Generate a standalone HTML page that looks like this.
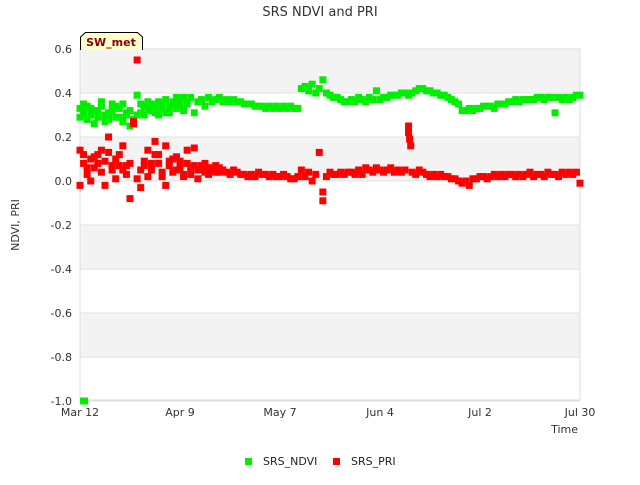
<!DOCTYPE html>
<html><head><meta charset="utf-8"><style>
body{margin:0;background:#fff;font-family:"Liberation Sans","DejaVu Sans",sans-serif}
svg text{font-family:"DejaVu Sans","Liberation Sans",sans-serif}
</style></head><body>
<svg id="c" width="640" height="480" viewBox="0 0 640 480">
<text x="320" y="16" text-anchor="middle" font-size="13" fill="#333">SRS NDVI and PRI</text>
<g id="bands"></g><g id="grid"></g>
<rect x="80" y="49" width="500" height="351" fill="none" stroke="#ddd"/>
<g id="yt"></g><g id="xt"></g><g id="marks"></g>
<text transform="translate(19,225) rotate(-90)" text-anchor="middle" font-size="11" fill="#333">NDVI, PRI</text>
<text x="578" y="433" text-anchor="end" font-size="11" fill="#333">Time</text>
<g>
<path d="M80.5,50 L80.5,37 L85.5,32.5 L137.5,32.5 L142.5,37 L142.5,50" fill="#ffffcc" stroke="#000"/>
<text x="111" y="46" text-anchor="middle" font-size="11" font-weight="bold" fill="#8b0000">SW_met</text></g>
<g>
<rect x="245" y="458" width="7" height="7" fill="#00ee00"/>
<text x="263" y="465" font-size="11" fill="#222">SRS_NDVI</text>
<rect x="333" y="458" width="7" height="7" fill="#ff0000"/>
<text x="351" y="465" font-size="11" fill="#222">SRS_PRI</text></g>
</svg>
<script>
const yTicks=[0.6,0.4,0.2,0.0,-0.2,-0.4,-0.6,-0.8,-1.0];
const yTickLabels=["0.6","0.4","0.2","0.0","-0.2","-0.4","-0.6","-0.8","-1.0"];
const xTickDays=[0,28,56,84,112,140];
const xTickLabels=["Mar 12","Apr 9","May 7","Jun 4","Jul 2","Jul 30"];
const ndvi=[0.33,0.31,0.34,0.30,0.32,0.29,0.34,0.27,0.31,0.35,0.29,0.33,0.27,0.30,0.32,
0.26,0.39,0.31,0.34,0.36,0.32,0.33,0.30,0.35,0.31,0.34,0.36,0.33,
0.37,0.32,0.35,0.38,0.31,0.36,0.37,0.34,0.38,0.36,0.37,0.38,0.36,0.37,0.36,0.37,0.36,0.36,
0.35,0.35,0.35,0.34,0.34,0.34,0.33,0.34,0.33,0.34,0.33,0.34,0.33,0.34,0.33,0.33,
0.42,0.43,0.41,0.44,0.40,0.42,0.46,0.40,0.39,0.38,0.38,0.37,0.36,0.36,
0.37,0.36,0.38,0.37,0.36,0.38,0.37,0.41,0.37,0.38,0.38,0.39,0.39,0.39,
0.40,0.40,0.39,0.40,0.41,0.42,0.42,0.41,0.41,0.40,0.40,
0.39,0.39,0.38,0.37,0.36,0.35,0.32,0.32,0.33,0.32,
0.33,0.33,0.34,0.34,0.34,0.33,0.35,0.35,0.35,0.36,
0.36,0.37,0.36,0.37,0.37,0.37,0.37,0.38,0.38,0.37,0.38,0.38,0.31,0.38,0.37,0.38,0.37,0.38,0.39,0.39];
const pri=[0.14,0.08,0.03,0.10,0.06,0.12,0.04,0.09,0.13,0.05,0.10,0.07,0.16,0.03,0.08,0.27,0.55,0.05,0.09,0.02,
0.08,0.18,0.12,0.04,0.16,0.07,0.10,0.05,0.09,0.03,
0.08,0.06,0.15,0.05,0.07,0.04,0.06,0.05,0.07,0.04,0.05,0.04,0.03,0.05,0.04,0.03,
0.03,0.02,0.03,0.02,0.04,0.03,0.03,0.02,0.03,0.02,0.02,0.03,0.02,0.01,0.01,0.02,
0.05,0.02,0.04,0.00,0.03,0.13,-0.09,0.02,0.04,0.03,0.03,0.04,0.03,0.04,
0.04,0.03,0.05,0.03,0.06,0.05,0.04,0.06,0.05,0.04,0.05,0.06,0.04,0.05,
0.04,0.05,0.22,0.04,0.03,0.05,0.04,0.03,0.02,0.03,0.02,
0.03,0.02,0.02,0.01,0.01,0.00,-0.01,0.00,-0.02,0.01,
0.01,0.02,0.02,0.01,0.02,0.03,0.02,0.03,0.02,0.03,
0.03,0.02,0.03,0.02,0.03,0.04,0.02,0.03,0.03,0.02,0.04,0.03,0.03,0.02,0.04,0.03,0.04,0.03,0.04,-0.01];
const ndviExtraDays=[1,1.3,0,1,2,3,4,5,6,7,8,9,10,11,12,13,14,15,16,17,18,19,20,21,22,23,24,25,26,27,28,29];
const ndviExtraVals=[-1.0,-1.0,0.29,0.35,0.28,0.33,0.26,0.32,0.36,0.30,0.28,0.32,0.34,0.29,0.35,0.31,0.25,0.28,0.30,0.35,0.30,0.33,0.35,0.31,0.36,0.33,0.37,0.31,0.35,0.38,0.35,0.38];
const priExtraDays=[0,1,2,3,4,5,6,7,8,9,10,11,12,13,14,15,16,17,18,19,20,21,22,23,24,25,26,27,28,29,30,31,32,33,34,35,36,37,38,39,68,92,92.3,92.6];
const priExtraVals=[-0.02,0.12,0.06,0.00,0.11,0.08,0.14,-0.02,0.20,0.07,0.01,0.12,0.05,0.07,-0.08,0.26,0.01,-0.03,0.07,0.14,0.05,0.12,0.08,0.02,-0.02,0.09,0.04,0.11,0.06,0.02,0.14,0.03,0.07,0.01,0.05,0.08,0.03,0.06,0.04,0.06,-0.05,0.25,0.19,0.16];
const NS='http://www.w3.org/2000/svg';
const X0=80,X1=580,Y0=49,Y1=401;
const xs=d=>X0+d/140*(X1-X0);
const ys=v=>Y0+(0.6-v)/1.6*(Y1-Y0);
function mk(t,a,p){const e=document.createElementNS(NS,t);for(const k in a)e.setAttribute(k,a[k]);p.appendChild(e);return e;}
const bands=document.getElementById('bands'),grid=document.getElementById('grid'),yt=document.getElementById('yt'),xt=document.getElementById('xt'),marks=document.getElementById('marks');
for(let i=0;i<yTicks.length-1;i++){if(i%2==0){const r=mk('rect',{x:X0,y:ys(yTicks[i]),width:X1-X0,height:ys(yTicks[i+1])-ys(yTicks[i]),fill:'#f3f3f3'},bands);

}}
yTicks.forEach((v,i)=>{const l=mk('line',{x1:X0,x2:X1,y1:ys(v),y2:ys(v),stroke:'#e0e0e0'},grid);


const t=mk('text',{x:72,y:ys(v)+4,'text-anchor':'end','font-size':11,fill:'#333'},yt);t.textContent=yTickLabels[i];

});
xTickDays.forEach((d,i)=>{const t=mk('text',{x:xs(d),y:416,'text-anchor':'middle','font-size':11,fill:'#333'},xt);t.textContent=xTickLabels[i];

});
function pt(d,v,c,n){const r=mk('rect',{x:xs(d)-3.5,y:ys(v)-3.5,width:7,height:7,fill:c},marks);

}
ndvi.forEach((v,d)=>pt(d,v,'#00ee00','ndvi-point'));
ndviExtraDays.forEach((d,i)=>pt(d,ndviExtraVals[i],'#00ee00','ndvi-point'));
pri.forEach((v,d)=>pt(d,v,'#ff0000','pri-point'));
priExtraDays.forEach((d,i)=>pt(d,priExtraVals[i],'#ff0000','pri-point'));
</script></body></html>
